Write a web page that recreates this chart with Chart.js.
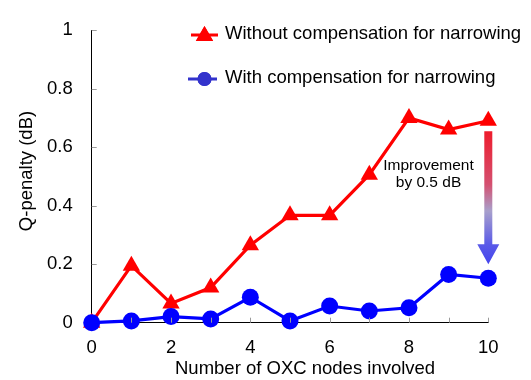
<!DOCTYPE html>
<html>
<head>
<meta charset="utf-8">
<script src="https://cdn.jsdelivr.net/npm/chart.js@4/dist/chart.umd.min.js"></script>
<style>
  html, body { margin: 0; padding: 0; background: #ffffff; }
  #wrap { width: 531px; height: 380px; }
</style>
</head>
<body>
<div id="wrap"><canvas id="c" width="531" height="380"></canvas></div>
<script>
// Number of OXC nodes involved
const nodes = [0, 1, 2, 3, 4, 5, 6, 7, 8, 9, 10];
// Q-penalty (dB)
const withoutComp = [0, 0.195, 0.066, 0.12, 0.265, 0.367, 0.367, 0.506, 0.70, 0.66, 0.69];
const withComp = [0, 0.006, 0.021, 0.013, 0.087, 0.006, 0.057, 0.04, 0.051, 0.165, 0.152];
const seriesNames = ['Without compensation for narrowing', 'With compensation for narrowing'];
const yTickLabels = ['0', '0.2', '0.4', '0.6', '0.8', '1'];
const noteLines = ['Improvement', 'by 0.5 dB'];
const xTitle = 'Number of OXC nodes involved';
const yTitle = 'Q-penalty (dB)';

const FONT = '"Liberation Sans", Arial, sans-serif';
const RED = '#ff0000';
const BLUE = '#0000ff';

// inward tick marks, axis titles, legend and the improvement arrow
const decor = {
  id: 'decor',
  afterDatasetsDraw(chart) {
    const ctx = chart.ctx;
    const xs = chart.scales.x, ys = chart.scales.y;
    const area = chart.chartArea;
    ctx.save();

    // inward tick marks
    ctx.strokeStyle = '#9a9a9a';
    ctx.lineWidth = 1;
    for (let v = 1; v <= 10; v++) {
      const px = Math.round(xs.getPixelForValue(v)) + 0.5;
      ctx.beginPath();
      ctx.moveTo(px, area.bottom);
      ctx.lineTo(px, area.bottom - 5);
      ctx.stroke();
    }
    for (let v = 0.2; v <= 1.0001; v += 0.2) {
      const py = Math.round(ys.getPixelForValue(v)) + 0.5;
      ctx.beginPath();
      ctx.moveTo(area.left, py);
      ctx.lineTo(area.left + 5, py);
      ctx.stroke();
    }

    // axis titles
    ctx.fillStyle = '#000';
    ctx.font = '18.5px ' + FONT;
    ctx.textAlign = 'left';
    ctx.textBaseline = 'middle';
    ctx.fillText(xTitle, 175, 369);
    ctx.save();
    ctx.translate(27, 171);
    ctx.rotate(-Math.PI / 2);
    ctx.textAlign = 'center';
    ctx.fillText(yTitle, 0, 0);
    ctx.restore();

    // legend
    const rows = [
      { y: 35, color: RED, style: 'triangle', r: 10, x0: 191, x1: 218, name: seriesNames[0] },
      { y: 79, color: '#3333cc', style: 'circle', r: 7, x0: 188, x1: 217, name: seriesNames[1] }
    ];
    rows.forEach(row => {
      ctx.strokeStyle = row.color;
      ctx.lineWidth = 3;
      ctx.beginPath();
      ctx.moveTo(row.x0, row.y);
      ctx.lineTo(row.x1, row.y);
      ctx.stroke();
      ctx.fillStyle = row.color;
      Chart.helpers.drawPoint(ctx, { pointStyle: row.style, radius: row.r, borderWidth: 0, rotation: 0 }, 204.5, row.style === 'triangle' ? row.y + 1 : row.y);
      ctx.fill();
      ctx.fillStyle = '#000';
      ctx.font = '18.5px ' + FONT;
      ctx.textAlign = 'left';
      ctx.textBaseline = 'middle';
      ctx.fillText(row.name, 225, row.y - 1);
    });

    // improvement note
    ctx.font = '15.5px ' + FONT;
    ctx.textAlign = 'center';
    ctx.fillText(noteLines[0], 428.5, 166);
    ctx.fillText(noteLines[1], 428.5, 183);

    // arrow between the two series at the last node
    const last = nodes.length - 1;
    const ax = xs.getPixelForValue(nodes[last]);
    const yTop = ys.getPixelForValue(withoutComp[last]) + 10.5;
    const yTip = ys.getPixelForValue(withComp[last]) - 14;
    const headLen = 20, headHalf = 11, shaftHalf = 4;
    const grad = ctx.createLinearGradient(0, yTop, 0, yTip);
    grad.addColorStop(0, '#ee1c2c');
    grad.addColorStop(0.4, '#d45070');
    grad.addColorStop(0.6, '#a8a0cc');
    grad.addColorStop(0.85, '#5a5ae8');
    grad.addColorStop(1, '#4444ee');
    ctx.fillStyle = grad;
    ctx.beginPath();
    ctx.moveTo(ax - shaftHalf, yTop);
    ctx.lineTo(ax + shaftHalf, yTop);
    ctx.lineTo(ax + shaftHalf, yTip - headLen);
    ctx.lineTo(ax + headHalf, yTip - headLen);
    ctx.lineTo(ax, yTip);
    ctx.lineTo(ax - headHalf, yTip - headLen);
    ctx.lineTo(ax - shaftHalf, yTip - headLen);
    ctx.closePath();
    ctx.fill();

    ctx.restore();
  }
};

new Chart(document.getElementById('c'), {
  type: 'line',
  data: {
    labels: nodes,
    datasets: [
      {
        label: seriesNames[0],
        data: nodes.map((n, i) => ({ x: n, y: withoutComp[i] })),
        borderColor: RED,
        backgroundColor: RED,
        borderWidth: 3.2,
        pointStyle: 'triangle',
        pointRadius: 10,
        pointBorderWidth: 0,
        pointBackgroundColor: RED,
        tension: 0,
        clip: false,
        order: 2
      },
      {
        label: seriesNames[1],
        data: nodes.map((n, i) => ({ x: n, y: withComp[i] })),
        borderColor: BLUE,
        backgroundColor: BLUE,
        borderWidth: 3.2,
        pointStyle: 'circle',
        pointRadius: 8.5,
        pointBorderWidth: 0,
        pointBackgroundColor: BLUE,
        tension: 0,
        clip: false,
        order: 1
      }
    ]
  },
  options: {
    responsive: false,
    animation: false,
    devicePixelRatio: 1,
    layout: { padding: { top: 23.3, right: 42.7, left: 0, bottom: 0 } },
    plugins: { legend: { display: false }, tooltip: { enabled: false } },
    scales: {
      x: {
        type: 'linear',
        min: 0, max: 10,
        grid: { display: false, drawTicks: false },
        border: { display: true, color: '#000', width: 1 },
        ticks: { stepSize: 2, color: '#000', padding: 14, font: { family: FONT, size: 18.5 } },
        afterFit(scale) { scale.height = 57.3; }
      },
      y: {
        min: 0, max: 1,
        grid: { display: false, drawTicks: false },
        border: { display: true, color: '#000', width: 1 },
        ticks: {
          stepSize: 0.2, color: '#000', padding: 19, font: { family: FONT, size: 18.5 },
          callback: (value, index) => yTickLabels[index]
        },
        afterFit(scale) { scale.width = 91.7; }
      }
    }
  },
  plugins: [decor]
});
</script>
</body>
</html>
